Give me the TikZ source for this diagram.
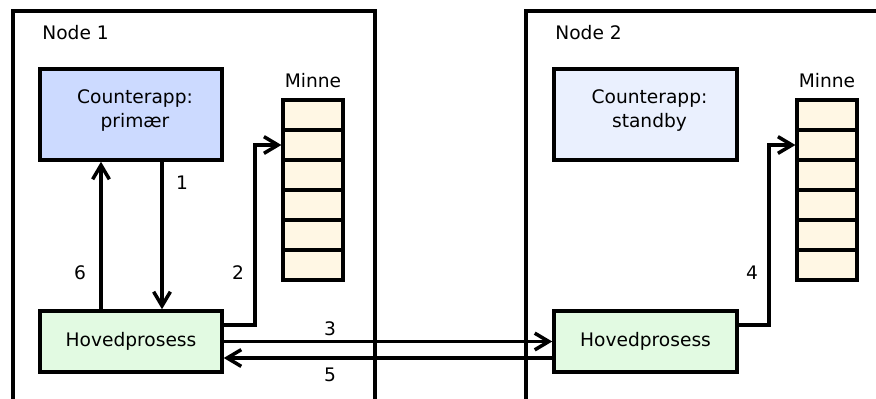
\documentclass[tikz,border=0pt]{standalone}
\usepackage{fontspec}
\setmainfont{DejaVu Sans}
\definecolor{appBlue}{HTML}{CCDAFF}
\definecolor{appPale}{HTML}{EAF0FE}
\definecolor{mainGreen}{HTML}{E2FAE2}
\definecolor{memYellow}{HTML}{FFF7E4}
\usetikzlibrary{arrows.meta, calc, positioning}
\tikzset{
  every node/.style={font=\fontsize{10.6}{14}\selectfont},
  frame/.style={
    rectangle, draw=black, line width=2pt, anchor=north west, minimum width=7.24cm, minimum height=8.4cm
  },
  app/.style={
    rectangle, draw=black, line width=2pt, minimum width=3.64cm, minimum height=1.82cm, align=center
  },
  hoved/.style={
    rectangle, draw=black, line width=2pt, fill=mainGreen, minimum width=3.64cm, minimum height=1.22cm
  },
  cell/.style={
    rectangle, draw=black, line width=1.8pt, fill=memYellow, minimum width=1.2cm, minimum height=0.6cm, inner sep=0pt
  },
  conn/.style={line width=2pt, -{Straight Barb[length=8pt,width=9.5pt]}}
}
\begin{document}
\begin{tikzpicture}
    \useasboundingbox (0,0) rectangle (17.52,-7.96);
    \clip (0,0) rectangle (17.52,-7.96);
        % the two machines
        \node[frame] (f1) at (0.22,-0.18) {};
        \node[frame, minimum width=8cm] (f2) at (10.48,-0.18) {};
        \node[anchor=west, inner sep=0pt] (t1) at ($(f1.north west)+(0.62,-0.48)$) {Node 1};
        \node[anchor=west, inner sep=0pt] (t2) at ($(f2.north west)+(0.62,-0.48)$) {Node 2};
        \node[app, fill=appBlue] (app1) at (2.62,-2.29) {};
        \node[align=center, inner sep=0pt] (a1txt) at ($(app1)+(0.08,0.08)$) {Counterapp:\\primær};
        \node[app, fill=appPale, minimum width=3.66cm] (app2) at (12.91,-2.29) {};
        \node[align=center, inner sep=0pt] (a2txt) at ($(app2)+(0.08,0.08)$) {Counterapp:\\standby};
        \node[hoved] (main1) at (2.62,-6.83) {Hovedprosess};
        \node[hoved, minimum width=3.66cm] (main2) at (12.91,-6.83) {Hovedprosess};
        % memory, node 1
        \node[cell] (m1c1) at (6.26,-2.3) {};
        \node[cell] (m1c2) at ($(m1c1)+(0,-0.6)$) {};
        \node[cell] (m1c3) at ($(m1c2)+(0,-0.6)$) {};
        \node[cell] (m1c4) at ($(m1c3)+(0,-0.6)$) {};
        \node[cell] (m1c5) at ($(m1c4)+(0,-0.6)$) {};
        \node[cell] (m1c6) at ($(m1c5)+(0,-0.6)$) {};
        \node[above=0.2cm of m1c1, inner sep=0pt] (mn1) {Minne};
        % memory, node 2
        \node[cell] (m2c1) at (16.54,-2.3) {};
        \node[cell] (m2c2) at ($(m2c1)+(0,-0.6)$) {};
        \node[cell] (m2c3) at ($(m2c2)+(0,-0.6)$) {};
        \node[cell] (m2c4) at ($(m2c3)+(0,-0.6)$) {};
        \node[cell] (m2c5) at ($(m2c4)+(0,-0.6)$) {};
        \node[cell] (m2c6) at ($(m2c5)+(0,-0.6)$) {};
        \node[above=0.2cm of m2c1, inner sep=0pt] (mn2) {Minne};
        % messages
        \draw[conn] ($(app1.south)+(0.62,0)$) -- ($(main1.north)+(0.62,0)$);
        \draw[conn] ($(main1.north)+(-0.6,0)$) -- ($(app1.south)+(-0.6,0)$);
        \draw[conn] ($(main1.east)+(0,0.33)$) -- ++(0.62,0) |- (m1c2.west);
        \draw[conn] (main1.east) -- (main2.west);
        \draw[conn] ($(main2.east)+(0,0.33)$) -- ++(0.6,0) |- (m2c2.west);
        \draw[conn] ($(main2.west)+(0,-0.33)$) -- ($(main1.east)+(0,-0.33)$);
        \node (l1) at (3.64,-3.66) {1};
        \node (l2) at (4.76,-5.46) {2};
        \node (l3) at (6.6,-6.58) {3};
        \node (l4) at (15.04,-5.46) {4};
        \node (l5) at (6.6,-7.5) {5};
        \node (l6) at (1.6,-5.46) {6};
\end{tikzpicture}
\end{document}
